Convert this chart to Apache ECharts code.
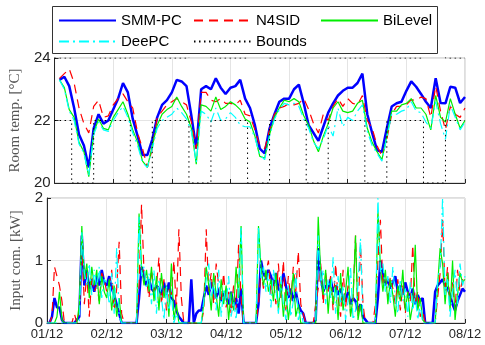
<!DOCTYPE html>
<html>
<head>
<meta charset="utf-8">
<title>Room temperature and input</title>
<style>html,body{margin:0;padding:0;background:#fff;}</style>
</head>
<body>
<div id="container" style="width:485px;height:345px;"></div>
<script src="https://cdn.jsdelivr.net/npm/echarts@6/dist/echarts.min.js"></script>
<script>
'use strict'

// x axis: hours since 01/12 00:00, one tick per day
var dayLabels = ['01/12', '02/12', '03/12', '04/12', '05/12', '06/12', '07/12', '08/12'];

// room temperature [°C], one value every 2 hours (h = 0, 2, ..., 168)
var tempSMM = [null, 23.3, 23.4, 23.1, 22.4, 21.55, 21.2, 20.5, 21.75, 22.2, 21.9, 22.0,
	22.35, 22.7, 23.2, 22.9, 22.05, 21.5, 20.9, 20.9, 21.4, 22.1, 22.5, 22.65,
	22.9, 23.3, 23.25, 23.1, 22.15, 21.1, 23.0, 23.1, 23.0, 23.35, 23.05, 22.85,
	23.05, 23.1, 23.3, 22.7, 22.4, 21.85, 21.1, 20.95, 21.75, 22.2, 22.6, 22.7,
	22.7, 23.0, 23.15, 22.55, 21.85, 21.6, 21.35, 21.8, 22.25, 22.55, 22.8, 22.95,
	23.05, 23.05, 23.2, 23.5, 22.2, 21.6, 21.05, 21.0, 21.75, 22.45, 22.55, 22.6,
	22.95, 23.25, 23.08, 22.85, 22.6, 22.4, 23.35, 22.56, 22.55, 23.08, 23.05, 22.56,
	22.75];
var tempN4SID = [null, 23.35, 23.5, 23.65, 23.2, 22.4, 21.9, 21.6, 22.45, 22.65, 22.1, 22.15,
	22.5, 22.7, 22.85, 22.6, 22.4, 21.6, 21.1, 20.5, 21.1, 22.1, 22.3, 22.5,
	22.6, 22.7, 22.6, 22.5, 21.95, 21.1, 22.9, 22.9, 22.65, 22.6, 22.7, 22.55,
	22.55, 22.5, 22.65, 22.2, 22.15, 21.7, 21.2, 21.1, 21.7, 22.2, 22.4, 22.45,
	22.55, 22.5, 22.55, 22.7, 22.35, 21.9, 21.6, 22.2, 22.0, 22.45, 22.7, 22.45,
	22.7, 22.55, 22.5, 22.8, 22.0, 21.75, 21.2, 20.85, 21.4, 22.2, 22.45, 22.45,
	22.5, 22.66, 22.65, 22.75, 22.7, 22.1, 23.1, 22.3, 21.7, 22.45, 22.2, 22.1,
	22.4];
var tempBiLevel = [null, 23.3, 23.05, 22.35, 22.1, 21.3, 21.0, 20.2, 21.6, 22.05, 21.75, 21.7,
	22.1, 22.35, 22.6, 22.2, 21.7, 21.3, 20.7, 20.5, 21.2, 21.85, 22.2, 22.35,
	22.45, 22.75, 22.45, 22.2, 21.75, 20.6, 22.5, 22.45, 22.3, 22.75, 22.35, 22.45,
	22.6, 22.5, 22.35, 22.05, 21.95, 21.5, 20.85, 20.8, 21.55, 22.1, 22.4, 22.65,
	22.6, 22.7, 22.6, 22.15, 21.85, 21.35, 21.0, 21.5, 21.9, 22.4, 22.6, 22.3,
	22.25, 22.3, 22.55, 22.65, 21.75, 21.3, 21.0, 20.75, 21.5, 22.3, 22.3, 22.5,
	22.55, 22.7, 22.4, 22.4, 22.2, 21.7, 22.8, 22.1, 21.95, 22.7, 22.2, 21.75,
	22.0];
var tempDeePC = [null, 23.3, 23.0, 22.3, 22.0, 21.25, 20.95, 20.25, 21.55, 21.95, 21.7, 21.65,
	22.0, 22.25, 22.45, 22.1, 21.6, 21.2, 20.65, 20.5, 21.1, 21.75, 22.0, 22.1,
	22.2, 22.4, 22.25, 22.05, 21.65, 20.65, 22.3, 22.2, 21.95, 22.4, 22.0, 22.05,
	22.25, 22.1, 21.85, 21.8, 21.8, 21.45, 20.9, 20.75, 21.5, 22.05, 22.35, 22.55,
	22.5, 22.55, 22.45, 22.05, 21.75, 21.3, 21.1, 21.4, 21.85, 21.5, 22.4, 21.8,
	22.1, 22.0, 22.3, 22.5, 21.65, 21.2, 20.95, 20.7, 21.45, 22.2, 22.2, 22.3,
	22.35, 22.6, 22.3, 22.25, 21.95, 21.75, 22.6, 21.9, 21.4, 22.5, 22.1, 21.7,
	21.95];

// comfort bounds: breakpoints [h] and the value held until the next one
var boundHours = [0, 7, 16, 31, 40, 55, 64, 79, 88, 103, 112, 127, 136, 151, 160, 168];
var lowerBound = [22, 20, 22, 20, 22, 20, 22, 20, 22, 20, 22, 20, 22, 20, 22, 22];
var upperBound = [24, 26, 24, 26, 24, 26, 24, 26, 24, 26, 24, 26, 24, 26, 24, 24];

// input commands [kW], one value per hour (h = 0 ... 168), one row per day
var inSMM = [
	0, 0, 0.1, 0.4, 0.25, 0.25, 0.05, 0, 0, 0, 0, 0, 0.05, 0.1, 1.4, 0.6, 0.85, 0.55, 0.7, 0.5, 0.75, 0.6, 0.85, 0.65,
	0.6, 0.75, 0.55, 0.45, 0.3, 0.15, 0, 0, 0, 0, 0, 0, 0, 0.4, 0.9, 0.75, 0.6, 0.7, 0.55, 0.5, 0.6, 0.55, 0.45, 0.65,
	0.45, 0.65, 0.4, 0.35, 0.2, 0.1, 0.05, 0, 0, 0, 0.7, 0, 0.15, 0.2, 0.2, 0.4, 0.6, 0.45, 0.65, 0.5, 0.4, 0.55, 0.35, 0.5,
	0.4, 0.3, 0.5, 0.25, 0.4, 0.15, 0.55, 0, 0, 0, 0, 0, 0, 0.3, 1.0, 0.8, 0.7, 0.85, 0.75, 0.6, 0.8, 0.55, 0.5, 0.8,
	0.6, 0.4, 0.55, 0.35, 0.5, 0.3, 0.2, 0.15, 0, 0, 0, 0, 0.05, 1.2, 0.75, 0.5, 0.6, 0.55, 0.7, 0.5, 0.6, 0.45, 0.55, 0.4,
	0.35, 0.5, 0.3, 0.4, 0.35, 0.2, 0.3, 0.1, 0.05, 0, 0, 0, 0, 0.4, 1.0, 0.8, 0.6, 0.7, 0.55, 0.65, 0.75, 0.5, 0.6, 0.45,
	0.65, 0.5, 0.4, 0.55, 0.3, 0.45, 0.35, 0.4, 0, 0, 0, 0, 0.5, 0.6, 0.65, 0.7, 0.6, 0.55, 0.45, 0.3, 0.2, 0.35, 0.45, 0.55,
	0.5];
var inN4SID = [
	0, 0, 0.1, 0.9, 0.75, 0.6, 0.35, 0, 0, 0, 0, 0.15, 0, 0.2, 1.3, 0.3, 0.8, 0.1, 0.75, 0.5, 0.6, 0.35, 0.8, 0.7,
	0.5, 0.6, 0.85, 0.2, 0.55, 1.3, 0.15, 0, 0, 0, 0, 0, 0, 0.6, 1.9, 0.8, 0.7, 0.4, 0.85, 0.5, 0.6, 1.05, 0.3, 0.7,
	0.2, 0.55, 0.45, 1.0, 0.2, 1.5, 0.4, 0, 0, 0, 0, 0, 0, 0, 0, 0.2, 1.5, 0.5, 0.8, 0.3, 0.95, 0.6, 0.35, 0.8,
	0.25, 0.5, 0.15, 0.6, 0.2, 1.25, 0.4, 0, 0, 0, 0, 0, 0, 0.3, 0.85, 0.55, 0.8, 1.0, 0.45, 0.7, 0.3, 0.95, 0.4, 1.0,
	0.2, 0.75, 0.35, 0.9, 0.5, 1.15, 0.3, 0.15, 0, 0, 0, 0, 0.3, 0.55, 0.95, 0.3, 0.8, 0.5, 0.75, 0.2, 0.95, 0.4, 0.1, 0.85,
	0.25, 0.6, 0.15, 0.4, 1.4, 0.1, 1.25, 0.3, 0, 0, 0, 0, 0.3, 1.0, 1.65, 0.6, 0.8, 0.4, 0.75, 0.55, 0.3, 0.7, 0.2, 0.6,
	0.15, 0.5, 0.35, 1.25, 0.3, 0.5, 0.1, 0.2, 0, 0, 0, 0, 0, 0.4, 0.8, 1.65, 0.5, 0.9, 0.3, 0.65, 0.2, 0.85, 0.5, 0.7,
	0.6];
var inBiLevel = [
	0, 0, 0, 0, 0.1, 0.5, 0.05, 0, 0, 0, 0, 0, 0, 0.3, 1.55, 0.7, 0.95, 0.4, 0.9, 0.6, 0.85, 0.3, 0.75, 0.5,
	0.4, 0.7, 0.2, 0.6, 0.1, 0.4, 0, 0, 0, 0, 0, 0, 0, 1.75, 0.9, 0.6, 0.85, 0.5, 0.9, 0.35, 0.75, 0.2, 0.8, 0.4,
	0.6, 0.1, 0.95, 0.05, 0.3, 0, 0, 0, 0, 0, 0, 0, 0, 0, 0, 0.3, 0.9, 0.6, 0.2, 0.8, 0.45, 0.1, 0.7, 0.3,
	0.6, 0.05, 0.5, 0.2, 0.9, 0.4, 1.55, 0, 0, 0, 0, 0, 0, 1.55, 0.9, 0.6, 0.85, 0.5, 0.7, 0.35, 0.8, 0.2, 0.65, 0.1,
	0.55, 0.05, 0.4, 0.8, 0.1, 0.3, 0, 0, 0, 0, 0, 0, 0, 1.7, 0.8, 0.45, 0.85, 0.15, 0.7, 0.3, 0.6, 0.05, 0.8, 0.2,
	0.5, 0.9, 0.1, 0.4, 1.4, 0.05, 0.3, 0, 0, 0, 0, 0, 0, 1.8, 0.9, 0.5, 0.85, 0.3, 0.7, 0.45, 0.1, 0.6, 0.35, 0.85,
	0.2, 0.5, 0.05, 0.3, 1.25, 0.2, 0.4, 0.05, 0, 0, 0, 0, 0, 0.6, 1.2, 0.95, 0.3, 0.8, 0.2, 1.0, 0.05, 0.45, 0.8, 0.65,
	0.7];
var inDeePC = [
	0, 0, 0, 0, 0, 0, 0, 0, 0, 0, 0, 0, 0, 0, 1.45, 0.8, 0.6, 0.95, 0.45, 0.85, 0.55, 0.9, 0.4, 0.7,
	0.65, 0.3, 0.8, 0.15, 1.2, 0.1, 0, 0, 0, 0, 0, 0, 0, 1.7, 0.75, 0.9, 0.55, 0.8, 0.3, 0.85, 0.15, 0.7, 0.4, 0.05,
	0.6, 0.2, 0.45, 0, 0.15, 0, 0, 0, 0, 0, 0, 0, 0, 0, 0, 0.35, 0.7, 0.95, 0.4, 0.65, 0.2, 0.85, 0.1, 0.55,
	0.3, 0.75, 0.1, 0.35, 0.05, 0.6, 1.55, 0, 0, 0, 0, 0, 0, 1.55, 0.7, 0.9, 0.5, 0.8, 0.25, 0.85, 0.55, 0.15, 0.75, 0.3,
	0.05, 0.6, 0.1, 0.35, 0.8, 0.05, 0.2, 0, 0, 0, 0, 0, 0, 1.4, 0.6, 0.85, 0.3, 0.7, 0.4, 1.05, 0.15, 0.75, 0.3, 0.6,
	0.05, 0.35, 0.9, 0.05, 0.2, 0.6, 1.35, 0, 0, 0, 0, 0, 0, 2.0, 0.8, 0.95, 0.5, 0.75, 0.3, 0.9, 0.4, 0.15, 0.7, 0.35,
	0.55, 0.1, 0.65, 0.2, 0.45, 0.05, 0.3, 0, 0, 0, 0, 0, 0, 0.7, 0.9, 2.0, 0.45, 0.7, 0.1, 0.5, 0.85, 0.3, 0.95, 0.6,
	0.75];

function every2h(arr) {
	return arr.map(function (v, i) { return [i * 2, v]; });
}
function every1h(arr) {
	return arr.map(function (v, i) { return [i, v]; });
}
function steps(arr) {
	return arr.map(function (v, i) { return [boundHours[i], v]; });
}

var colBlue = '#0000ff', colRed = '#ff0000', colGreen = '#00ee00', colCyan = '#00ffff';
var dashRed = [9, 6];
var dashCyan = [10, 4, 2, 4];
var tickFont = 'Liberation Sans, Arial, Helvetica, sans-serif';
var nameFont = 'Liberation Serif, Times New Roman, serif';

function xAxisFor(idx) {
	return {
		gridIndex: idx, type: 'value', min: 0, max: 168, interval: 24,
		axisLine: { show: true, onZero: false, lineStyle: { color: '#262626', width: 1 } },
		axisTick: { show: true, inside: true, length: 4, lineStyle: { color: '#262626' } },
		axisLabel: {
			show: idx === 1, margin: 5, fontSize: 13, color: '#262626', fontFamily: tickFont,
			formatter: function (v) { return dayLabels[Math.round(v / 24)]; }
		},
		splitLine: { show: true, lineStyle: { color: '#e4e4e4', width: 1 } }
	};
}

function line(name, data, xi, color, width, type, z) {
	return {
		name: name, type: 'line', xAxisIndex: xi, yAxisIndex: xi, data: data,
		symbol: 'none', showSymbol: false, connectNulls: false, z: z,
		lineStyle: { color: color, width: width, type: type },
		itemStyle: { color: color },
		emphasis: { disabled: true }
	};
}

var myCharts = echarts.init(document.getElementById('container'), null, { renderer: 'canvas' });

// legend: only the line sample, no marker
var legendBase = {
	itemWidth: 57, itemHeight: 14, padding: 0, itemGap: 0, selectedMode: false,
	itemStyle: { opacity: 0 },
	textStyle: { fontSize: 15, color: '#000', fontFamily: tickFont }
};
function legendAt(name, left, top) {
	return Object.assign({}, legendBase, { data: [name], left: left, top: top });
}

var option = {
	animation: false,
	backgroundColor: '#fff',
	graphic: [{
		type: 'rect', left: 52, top: 6, z: 0,
		shape: { width: 385, height: 47 },
		style: { fill: '#fff', stroke: '#333', lineWidth: 1 }
	}],
	legend: [
		legendAt('SMM-PC', 58, 13),
		legendAt('N4SID', 193, 13),
		legendAt('BiLevel', 320, 13),
		legendAt('DeePC', 58, 34),
		legendAt('Bounds', 193, 34)
	],
	grid: [
		{ left: 47, right: 20, top: 58, height: 125, show: true, borderColor: '#bdbdbd', borderWidth: 1 },
		{ left: 47, right: 20, top: 198, height: 125, show: true, borderColor: '#bdbdbd', borderWidth: 1 }
	],
	xAxis: [xAxisFor(0), xAxisFor(1)],
	yAxis: [{
		gridIndex: 0, type: 'value', min: 20, max: 24, interval: 2,
		name: 'Room temp. [°C]', nameLocation: 'middle', nameGap: 23,
		nameTextStyle: { fontFamily: nameFont, fontSize: 15, color: '#555' },
		axisLine: { show: true, lineStyle: { color: '#262626' } },
		axisTick: { show: true, inside: true, length: 4, lineStyle: { color: '#262626' } },
		axisLabel: { margin: 4, fontSize: 15, color: '#262626', fontFamily: tickFont },
		splitLine: { show: true, lineStyle: { color: '#e4e4e4' } }
	}, {
		gridIndex: 1, type: 'value', min: 0, max: 2, interval: 1,
		name: 'Input com. [kW]', nameLocation: 'middle', nameGap: 23,
		nameTextStyle: { fontFamily: nameFont, fontSize: 15, color: '#555' },
		axisLine: { show: true, lineStyle: { color: '#262626' } },
		axisTick: { show: true, inside: true, length: 4, lineStyle: { color: '#262626' } },
		axisLabel: { margin: 4, fontSize: 15, color: '#262626', fontFamily: tickFont },
		splitLine: { show: true, lineStyle: { color: '#e4e4e4' } }
	}],
	series: [
		line('SMM-PC', every2h(tempSMM), 0, colBlue, 2.5, 'solid', 2),
		line('N4SID', every2h(tempN4SID), 0, colRed, 1.2, dashRed, 3),
		line('BiLevel', every2h(tempBiLevel), 0, colGreen, 1.2, 'solid', 4),
		line('DeePC', every2h(tempDeePC), 0, colCyan, 1.2, dashCyan, 5),
		Object.assign(line('Bounds', steps(lowerBound), 0, '#000', 1, [1.5, 3.5], 6), { step: 'end' }),
		Object.assign(line('Bounds', steps(upperBound), 0, '#000', 1, [1.5, 3.5], 6), { step: 'end' }),
		line('SMM-PC', every1h(inSMM), 1, colBlue, 2.5, 'solid', 2),
		line('N4SID', every1h(inN4SID), 1, colRed, 1.2, dashRed, 3),
		line('BiLevel', every1h(inBiLevel), 1, colGreen, 1.2, 'solid', 4),
		line('DeePC', every1h(inDeePC), 1, colCyan, 1.2, dashCyan, 5)
	]
};
myCharts.setOption(option);
</script>
</body>
</html>
